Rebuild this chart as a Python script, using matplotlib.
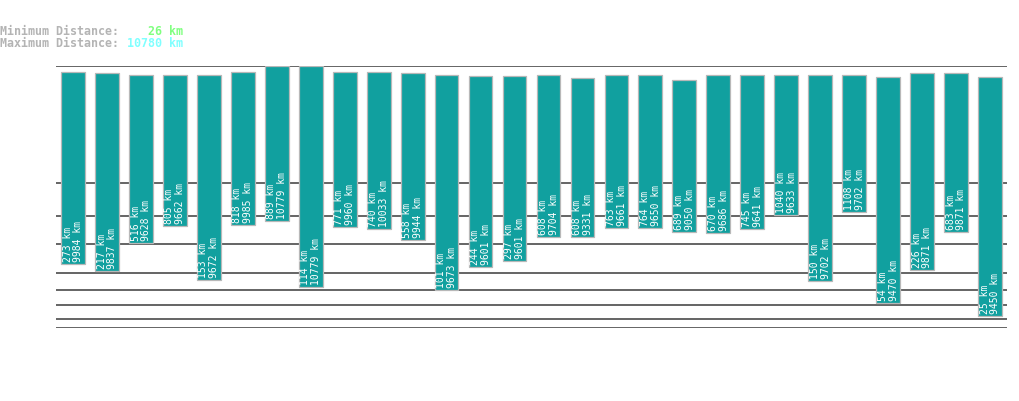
import numpy as np
import matplotlib
matplotlib.use('Agg')
import matplotlib.pyplot as plt

# per-bar distances (km), left to right
MIN_KM = [273, 217, 516, 805, 153, 818, 889, 114, 771, 740, 558, 101, 244, 297,
          608, 608, 763, 764, 689, 670, 745, 1040, 150, 1108, 54, 226, 683, 25]
MAX_KM = [9984, 9837, 9628, 9662, 9672, 9985, 10779, 10779, 9960, 10033, 9944, 9673, 9601, 9601,
          9704, 9331, 9661, 9650, 9050, 9686, 9641, 9633, 9702, 9702, 9470, 9871, 9871, 9450]

SUMMARY_MIN = 26
SUMMARY_MAX = 10780
GRID_KM = [10, 20, 50, 100, 200, 500, 1000, 2000]

BAR_COLOR = '#11a09f'
EDGE_COLOR = '#b8b8b8'
LINE_COLOR = '#3a3a3a'
POWER = 0.29
MONO = 'DejaVu Sans Mono'


def fwd(d):
    d = np.asarray(d, dtype=float)
    return np.sign(d) * np.abs(d) ** POWER


def inv(t):
    t = np.asarray(t, dtype=float)
    return np.sign(t) * np.abs(t) ** (1.0 / POWER)


W, H = 1019, 402
fig = plt.figure(figsize=(W / 100, H / 100), dpi=100)
fig.patch.set_facecolor('white')

# axes box in pixels: x 56..1007, y 66.5..329.3 from top
left, right, top, bottom = 56, 1007, 66.5, 329.3
ax = fig.add_axes([left / W, (H - bottom) / H, (right - left) / W, (bottom - top) / H])
ax.set_yscale('function', functions=(fwd, inv))
ax.set_ylim(GRID_KM[0], SUMMARY_MAX)
ax.set_xlim(-0.5, len(MIN_KM) - 0.5)
ax.axis('off')

for g in GRID_KM + [SUMMARY_MAX]:
    ax.axhline(g, color=LINE_COLOR, lw=1.1, zorder=1)

x = np.arange(len(MIN_KM))
mins = np.array(MIN_KM)
maxs = np.array(MAX_KM)
ax.bar(x, maxs - mins, bottom=mins, width=0.7, color=BAR_COLOR,
       edgecolor=EDGE_COLOR, linewidth=0.9, zorder=2)

for xi, lo, hi in zip(x, mins, maxs):
    ax.annotate(f"{lo} km\n{hi} km", xy=(xi, lo), xytext=(0, 2.2), textcoords='offset points',
                rotation=90, ha='center', va='bottom', multialignment='left',
                color='white', fontsize=7, family=MONO, linespacing=1.1, zorder=3)

# summary header in monospace: values start after a fixed number of characters
HEAD_SIZE = 8.4
char_px = 0.602 * HEAD_SIZE * 100 / 72
GRAY = '#b4b4b4'
rows = [("Minimum Distance:", SUMMARY_MIN, '#80ff80', 35),
        ("Maximum Distance:", SUMMARY_MAX, '#80ffff', 46.7)]
for label, value, col, base in rows:
    fig.text(0.5 / W, 1 - base / H, label, color=GRAY, fontsize=HEAD_SIZE,
             family=MONO, weight='bold', va='baseline', ha='left')
    padded = f"{value:>5} km"
    skip = 18 + len(padded) - len(padded.lstrip())
    fig.text((0.5 + skip * char_px) / W, 1 - base / H, padded.lstrip(), color=col,
             fontsize=HEAD_SIZE, family=MONO, weight='bold', va='baseline', ha='left')

fig.savefig('out.png', dpi=100, facecolor='white')
